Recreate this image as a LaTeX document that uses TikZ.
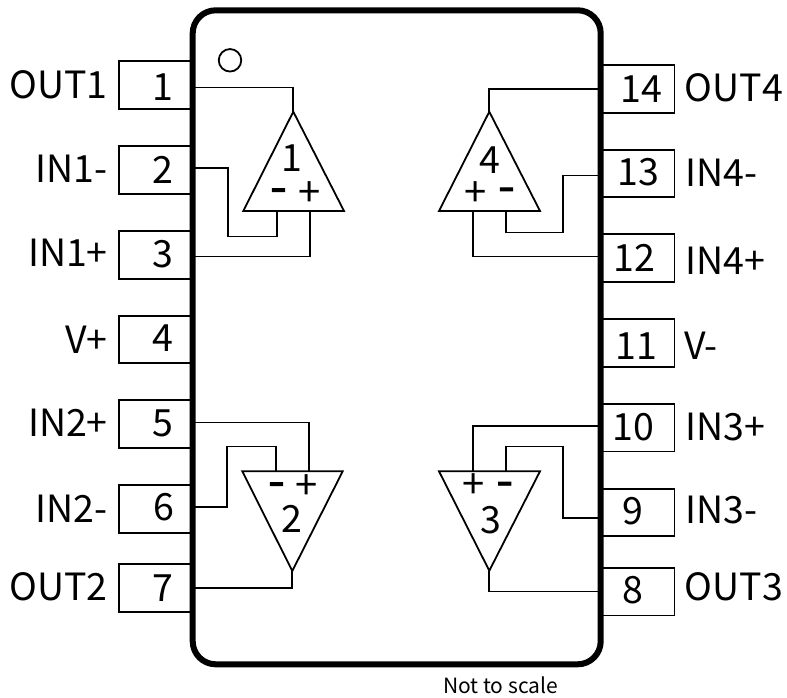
\documentclass[tikz,border=0pt]{standalone}
\usepackage{fontspec}
\setmainfont{Noto Sans CJK SC}
\newfontfamily\heavyfont[FakeBold=3]{Noto Sans CJK SC Black}
\newcommand{\bigtxt}{\fontsize{37.5}{42}\selectfont}
\newcommand{\plustxt}{\fontsize{40}{44}\selectfont}
\newcommand{\minustxt}{\heavyfont\fontsize{28}{34}\selectfont}
\newcommand{\smalltxt}{\fontsize{21}{24}\selectfont}
\begin{document}
\begin{tikzpicture}[x=1pt,y=-1pt,
  wire/.style={line width=1.8pt,line join=miter,black},
  pinbox/.style={draw=black,line width=1.8pt,fill=white,rectangle,minimum width=74pt,minimum height=47.5pt,inner sep=0pt,anchor=center},
  txt/.style={inner sep=0pt,font=\bigtxt,text=black},
  plussgn/.style={inner sep=0pt,font=\plustxt,text=black},
  minussgn/.style={inner sep=0pt,font=\minustxt,text=black},
  amp/.style={draw=black,line width=1.8pt,line join=miter,fill=white},
]
\useasboundingbox (0,0) rectangle (787,698);
% pins
\foreach \n/\y in {1/85,2/170,3/255,4/339.5,5/424,6/509,7/588}{
  \node[pinbox] (p\n) at (156,\y) {};
}
\foreach \n/\y in {14/89,13/173.5,12/258,11/343,10/427.7,9/512.5,8/591.8}{
  \node[pinbox] (p\n) at (637.5,\y) {};
}
% body
\node[draw=black,line width=6pt,rounded corners=23pt,fill=white,rectangle,minimum width=408pt,minimum height=654pt,inner sep=0pt] (body) at (396.7,337.3) {};
\node[draw=black,line width=1.8pt,circle,minimum size=22.5pt,inner sep=0pt] (dot) at (230,60.3) {};
% coordinates on the package wall
\foreach \n/\y in {1/87.5,2/168,3/256.5,5/422.5,6/507,7/588}{ \coordinate (l\n) at (193,\y); }
\foreach \n/\y in {14/89,13/175.5,12/256.5,10/426,9/518,8/591.5}{ \coordinate (r\n) at (600,\y); }
% amp corners
\coordinate (a1) at (293.3,111.7); \coordinate (b1l) at (243.3,211); \coordinate (b1r) at (344,211);
\coordinate (a4) at (489.3,111.7); \coordinate (b4l) at (439,211); \coordinate (b4r) at (540,211);
\coordinate (a2) at (292.3,571); \coordinate (b2l) at (242.3,471.3); \coordinate (b2r) at (342.7,471.3);
\coordinate (a3) at (489.3,570.7); \coordinate (b3l) at (439,471.3); \coordinate (b3r) at (540,471.3);
\draw[amp] (a1)--(b1l)--(b1r)--cycle;
\draw[amp] (a4)--(b4l)--(b4r)--cycle;
\draw[amp] (a2)--(b2l)--(b2r)--cycle;
\draw[amp] (a3)--(b3l)--(b3r)--cycle;
% wires
\draw[wire] (l1) -| (a1);
\draw[wire] (l2) -- (227.7,168) -- (227.7,236.5) -- (276.7,236.5) -- (276.7,211);
\draw[wire] (l3) -- (310.3,256.5) -- (310.3,211);
\draw[wire] (r14) -| (a4);
\draw[wire] (r13) -- (563.3,175.5) -- (563.3,232.5) -- (506.3,232.5) -- (506.3,211);
\draw[wire] (r12) -- (473,256.5) -- (473,211);
\draw[wire] (l5) -- (309.3,422.5) -- (309.3,471.3);
\draw[wire] (l6) -- (226.7,507) -- (226.7,446.5) -- (276,446.5) -- (276,471.3);
\draw[wire] (l7) -| (a2);
\draw[wire] (r10) -- (472.7,426) -- (472.7,471.3);
\draw[wire] (r9) -- (563.3,518) -- (563.3,446.5) -- (506,446.5) -- (506,471.3);
\draw[wire] (r8) -- (489.3,591.5) -- (a3);
% pin numbers
\foreach \n/\x/\y in {1/163/86.7,2/163/170,3/163/254.5,4/163/338.5,5/163/423.7,6/163.5/507.5,7/163/587.7,14/641/88.7,13/638/172.5,12/634/257.4,11/636/346.5,10/633.7/427.5,9/633.3/511.2,8/633.3/590.5}{
  \node[txt] (n\n) at (\x,\y) {\n};
}
% labels
\node[txt,anchor=east] (t1) at (108,84.5) {OUT1};
\node[txt,anchor=east] (t2) at (108,169) {IN1-};
\node[txt,anchor=east] (t3) at (108,253) {IN1+};
\node[txt,anchor=east] (t4) at (108,340) {V+};
\node[txt,anchor=east] (t5) at (108,423) {IN2+};
\node[txt,anchor=east] (t6) at (108,509) {IN2-};
\node[txt,anchor=east] (t7) at (108,587) {OUT2};
\node[txt,anchor=west] (t14) at (684.5,88) {OUT4};
\node[txt,anchor=west] (t13) at (685,173) {IN4-};
\node[txt,anchor=west] (t12) at (685,261) {IN4+};
\node[txt,anchor=west] (t11) at (684,346) {V-};
\node[txt,anchor=west] (t10) at (685,426.5) {IN3+};
\node[txt,anchor=west] (t9) at (685,509.7) {IN3-};
\node[txt,anchor=west] (t8) at (684.5,587) {OUT3};
% amp labels
\node[txt] (o1) at (292,157.8) {1};
\node[txt] (o4) at (489.7,159.7) {4};
\node[txt] (o2) at (292,519.3) {2};
\node[txt] (o3) at (490.8,520) {3};
\node[minussgn] (s1m) at (278.5,193.3) {–};
\node[plussgn] (s1p) at (309.5,194.5) {+};
\node[plussgn] (s4p) at (475.5,194) {+};
\node[minussgn] (s4m) at (506.5,192.7) {–};
\node[minussgn] (s2m) at (276.5,487.3) {–};
\node[plussgn] (s2p) at (307,487.5) {+};
\node[plussgn] (s3p) at (473.3,486.3) {+};
\node[minussgn] (s3m) at (504.7,487) {–};
\node[inner sep=0pt,font=\smalltxt,anchor=center] (note) at (500.5,685) {Not to scale};
\end{tikzpicture}
\end{document}
